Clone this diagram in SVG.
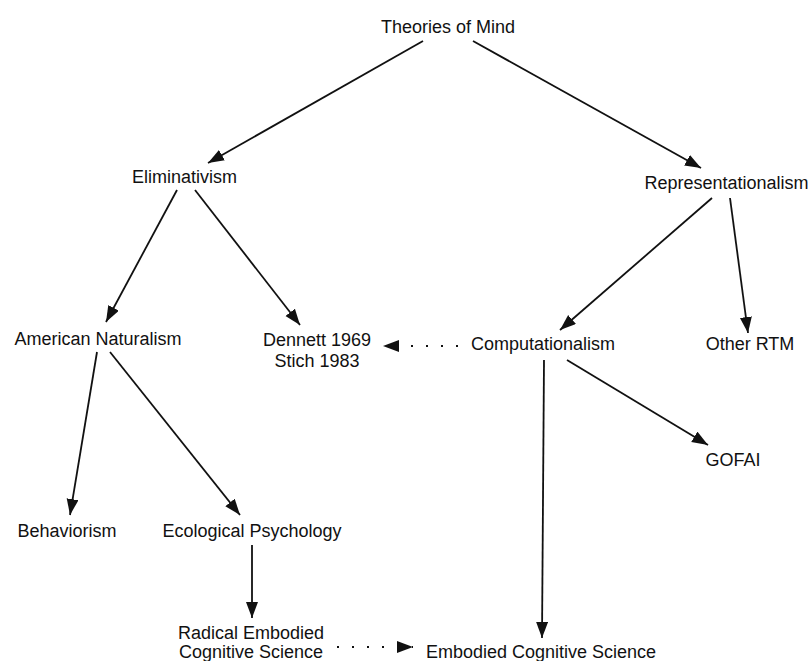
<svg xmlns="http://www.w3.org/2000/svg" width="811" height="661" viewBox="0 0 811 661">
<defs>
<marker id="ah" markerUnits="userSpaceOnUse" markerWidth="17" markerHeight="13" refX="16" refY="6" orient="auto">
<path d="M0,0 L16,6 L0,12 z" fill="#111"/>
</marker>
<style>
text{font-family:"Liberation Sans",Arial,sans-serif;font-size:18px;fill:#111;text-anchor:middle}
.ln{stroke:#111;stroke-width:1.8;fill:none;marker-end:url(#ah)}
.dt{stroke:#111;stroke-width:2;fill:none;stroke-dasharray:2 13;marker-end:url(#ah)}
</style>
</defs>
<rect width="811" height="661" fill="#fff"/>
<g id="connectors">
<path class="ln" d="M423,41 L208,163"/>
<path class="ln" d="M473,41 L701,168"/>
<path class="ln" d="M177,190 L106,322"/>
<path class="ln" d="M195,190 L300,325"/>
<path class="ln" d="M712,198 L560,330"/>
<path class="ln" d="M730,198 L748,333"/>
<path class="ln" d="M97,352 L70,515"/>
<path class="ln" d="M110,352 L240,515"/>
<path class="ln" d="M252,545 L252,618"/>
<path class="ln" d="M544,360 L542,638"/>
<path class="ln" d="M567,360 L708,445"/>
<path class="dt" d="M458,346 L383,346"/>
<path class="dt" d="M337,647 L413,647"/>
</g>
<g id="theories"><text x="448" y="33">Theories of Mind</text></g>
<g id="eliminativism"><text x="184.5" y="183">Eliminativism</text></g>
<g id="representationalism"><text x="726.5" y="189">Representationalism</text></g>
<g id="american-naturalism"><text x="98" y="345">American Naturalism</text></g>
<g id="dennett-stich"><text x="317" y="346">Dennett 1969</text><text x="317" y="367">Stich 1983</text></g>
<g id="computationalism"><text x="543" y="350">Computationalism</text></g>
<g id="other-rtm"><text x="750" y="350">Other RTM</text></g>
<g id="gofai"><text x="733" y="466">GOFAI</text></g>
<g id="behaviorism"><text x="67" y="537">Behaviorism</text></g>
<g id="ecological-psychology"><text x="252" y="537">Ecological Psychology</text></g>
<g id="radical-ecs"><text x="251" y="639">Radical Embodied</text><text x="251" y="658">Cognitive Science</text></g>
<g id="embodied-cs"><text x="541" y="658">Embodied Cognitive Science</text></g>
</svg>
